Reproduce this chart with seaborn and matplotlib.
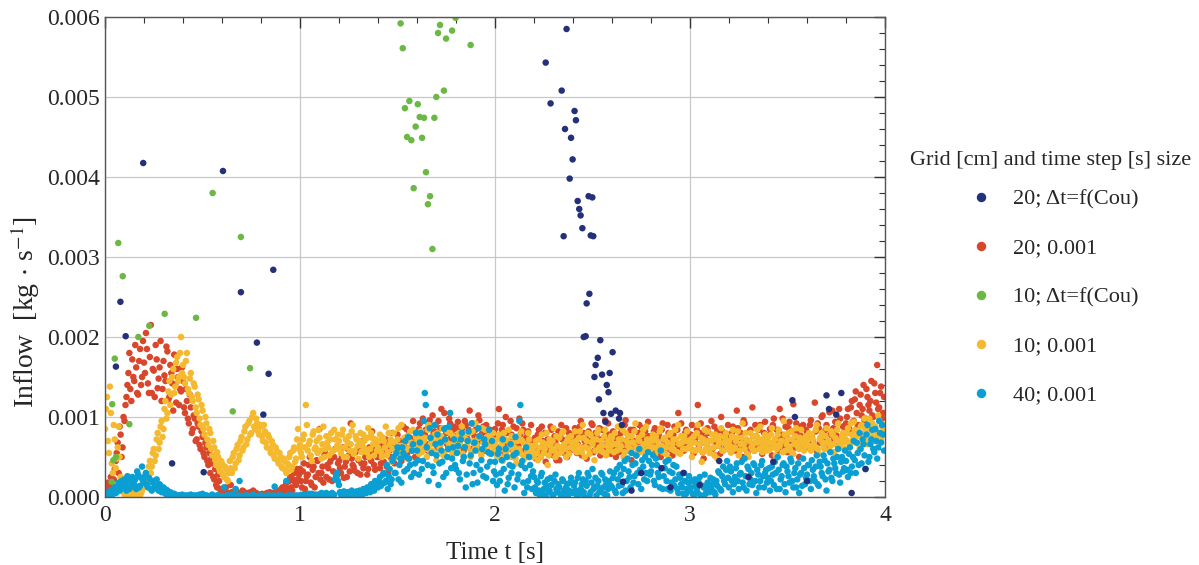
import numpy as np
import pandas as pd
import matplotlib
matplotlib.use("Agg")
import matplotlib.pyplot as plt
from matplotlib.ticker import MultipleLocator, FormatStrFormatter
import seaborn as sns

# ---------------- data (inflow in 1e-3 kg/s) ----------------
# dense series read every 0.01 s from t = 0.00 (list A) and from t = 0.005 (list B)
dense_dt = 0.01

red_20_001_a = [
    0.05, 0.12, 0.02, 0.25, 0.08, 0.35, 0.55, 0.30, 0.78, 0.62, 0.95, 1.25, 1.55, 1.35, 1.72, 1.45, 1.62, 1.28, 1.85, 1.50,
    1.68, 2.05, 1.42, 1.75, 1.30, 1.58, 1.90, 1.36, 1.62, 1.20, 1.70, 1.45, 1.82, 1.25, 1.55, 1.08, 1.40, 1.60, 1.15, 1.32,
    1.45, 1.05, 1.20, 0.92, 1.12, 0.85, 0.98, 0.72, 0.88, 0.60, 0.75, 0.50, 0.62, 0.40, 0.30, 0.42, 0.22, 0.15, 0.28, 0.10,
    0.08, 0.03, 0.12, 0.05, 0.00, 0.06, 0.02, 0.09, 0.01, 0.04, 0.00, 0.07, 0.02, 0.05, 0.01, 0.03, 0.08, 0.00, 0.04, 0.02,
    0.01, 0.03, 0.00, 0.05, 0.02, 0.04, 0.01, 0.06, 0.03, 0.08, 0.05, 0.12, 0.04, 0.18, 0.10, 0.25, 0.08, 0.30, 0.15, 0.22,
    0.35, 0.12, 0.42, 0.20, 0.28, 0.50, 0.15, 0.38, 0.25, 0.45, 0.85, 0.30, 0.18, 0.55, 0.40, 0.22, 0.48, 0.32, 0.60, 0.27,
    0.45, 0.30, 0.62, 0.38, 0.25, 0.52, 0.92, 0.40, 0.33, 0.58, 0.46, 0.28, 0.70, 0.42, 0.55, 0.35, 0.48, 0.82, 0.40, 0.60,
    0.50, 0.36, 0.65, 0.44, 0.72, 0.30, 0.58, 0.48, 0.66, 0.52, 0.78, 0.60, 0.45, 0.88, 0.70, 0.55, 0.82, 0.62, 0.95, 0.50,
    0.72, 0.85, 0.60, 0.98, 0.78, 0.66, 0.90, 0.74, 1.02, 0.82, 0.68, 0.95, 0.86, 0.75, 1.05, 0.80, 0.62, 0.92, 0.70, 0.88,
    0.76, 0.94, 0.65, 0.85, 0.58, 0.90, 0.72, 1.08, 0.80, 0.68, 0.84, 0.60, 0.96, 0.74, 0.88, 0.66, 0.82, 0.55, 0.78, 0.70,
    0.85, 0.62, 1.10, 0.75, 0.90, 0.55, 0.80, 0.68, 0.95, 0.72, 0.50, 0.86, 0.64, 0.78, 0.92, 0.58, 0.74, 0.82, 0.60, 0.70,
    0.66, 0.48, 0.78, 0.56, 0.88, 0.62, 0.44, 0.72, 0.58, 0.84, 0.52, 0.68, 0.75, 0.46, 0.90, 0.60, 0.70, 0.50, 0.80, 0.64,
    0.72, 0.86, 0.55, 0.78, 0.95, 0.62, 0.70, 0.48, 0.82, 0.66, 0.90, 0.58, 0.76, 0.68, 0.52, 0.84, 0.74, 0.60, 0.92, 0.70,
    0.64, 0.80, 0.50, 0.74, 0.88, 0.58, 0.70, 0.96, 0.62, 0.78, 0.46, 0.84, 0.68, 0.55, 0.90, 0.72, 0.60, 0.82, 0.66, 0.76,
    0.70, 0.56, 0.86, 0.64, 0.78, 0.50, 0.92, 0.68, 0.60, 0.80, 0.74, 0.52, 0.88, 0.66, 1.05, 0.62, 0.76, 0.58, 0.84, 0.70,
    0.62, 0.90, 0.55, 0.74, 1.15, 0.66, 0.80, 0.48, 0.72, 0.86, 0.60, 0.95, 0.70, 0.52, 0.82, 0.64, 1.00, 0.58, 0.76, 0.68,
    0.74, 0.56, 0.88, 0.66, 1.08, 0.60, 0.80, 0.50, 0.92, 0.70, 0.62, 0.84, 1.12, 0.58, 0.76, 0.68, 0.90, 0.54, 0.80, 0.72,
    0.66, 0.85, 0.52, 0.98, 0.72, 0.60, 1.10, 0.78, 0.64, 0.88, 0.56, 0.94, 0.70, 1.16, 0.62, 0.82, 0.50, 0.76, 0.90, 0.68,
    0.80, 0.62, 0.96, 0.70, 1.18, 0.58, 0.86, 0.74, 1.02, 0.66, 0.90, 0.60, 0.78, 1.08, 0.72, 0.84, 0.64, 0.98, 0.76, 0.88,
    0.92, 1.10, 0.80, 1.20, 0.95, 1.32, 0.88, 1.15, 1.02, 1.40, 0.98, 1.25, 1.08, 1.45, 1.00, 1.30, 1.65, 1.12, 1.38, 1.05,
]
red_20_001_b = [
    0.00, 0.18, 0.06, 0.15, 0.22, 0.45, 0.68, 0.88, 0.50, 1.00, 1.15, 1.40, 1.80, 1.20, 1.50, 1.90, 1.30, 1.70, 1.40, 1.95,
    1.55, 1.85, 1.30, 2.15, 1.60, 1.25, 1.72, 1.48, 1.95, 1.35, 1.52, 1.88, 1.22, 1.65, 1.42, 1.78, 1.18, 1.50, 1.35, 1.62,
    1.12, 1.35, 0.98, 1.28, 0.80, 1.02, 0.70, 0.92, 0.65, 0.82, 0.55, 0.68, 0.45, 0.55, 0.48, 0.25, 0.35, 0.12, 0.20, 0.06,
    0.02, 0.10, 0.00, 0.04, 0.15, 0.01, 0.07, 0.00, 0.05, 0.02, 0.08, 0.00, 0.03, 0.00, 0.06, 0.02, 0.00, 0.05, 0.01, 0.03,
    0.04, 0.00, 0.02, 0.01, 0.06, 0.00, 0.03, 0.02, 0.07, 0.04, 0.10, 0.06, 0.14, 0.08, 0.20, 0.12, 0.22, 0.18, 0.35, 0.28,
    0.20, 0.32, 0.10, 0.26, 0.40, 0.18, 0.34, 0.12, 0.46, 0.30, 0.22, 0.38, 0.52, 0.25, 0.36, 0.44, 0.20, 0.50, 0.30, 0.42,
    0.36, 0.50, 0.24, 0.44, 0.60, 0.32, 0.48, 0.38, 0.56, 0.30, 0.64, 0.42, 0.36, 0.50, 0.28, 0.62, 0.45, 0.55, 0.34, 0.50,
    0.58, 0.42, 0.74, 0.55, 0.38, 0.66, 0.50, 0.80, 0.42, 0.60, 0.56, 0.70, 0.52, 0.64, 0.85, 0.48, 0.74, 0.58, 0.68, 0.80,
    0.64, 0.92, 0.78, 0.70, 0.84, 0.58, 0.96, 0.68, 0.80, 0.90, 0.62, 0.76, 1.10, 0.70, 0.86, 0.66, 0.98, 0.74, 0.84, 0.60,
    0.86, 0.68, 0.78, 0.62, 0.95, 0.74, 0.84, 0.60, 0.92, 0.76, 0.64, 1.02, 0.70, 0.80, 0.58, 0.90, 0.72, 0.84, 0.66, 0.80,
    0.76, 0.92, 0.58, 0.84, 0.66, 1.00, 0.70, 0.60, 0.78, 0.88, 0.64, 0.74, 0.98, 0.56, 0.84, 0.68, 0.80, 0.52, 0.90, 0.66,
    0.74, 0.58, 0.84, 0.50, 0.70, 0.80, 0.62, 0.54, 0.88, 0.66, 0.76, 0.46, 0.82, 0.60, 0.72, 0.55, 0.86, 0.64, 0.58, 0.78,
    0.60, 0.76, 0.66, 0.88, 0.52, 0.80, 0.74, 0.62, 0.70, 0.92, 0.56, 0.80, 0.64, 0.86, 0.72, 0.58, 0.96, 0.66, 0.78, 0.54,
    0.82, 0.60, 0.72, 0.56, 0.80, 0.66, 0.90, 0.58, 0.74, 0.84, 0.62, 0.70, 0.52, 0.80, 0.66, 0.86, 0.74, 0.56, 0.94, 0.64,
    0.66, 0.82, 0.60, 0.74, 0.56, 0.84, 0.70, 0.62, 0.90, 0.66, 0.58, 0.78, 0.70, 0.84, 0.60, 0.92, 0.68, 0.80, 0.64, 0.74,
    0.78, 0.58, 0.70, 0.84, 0.62, 0.92, 0.56, 0.74, 0.66, 0.80, 0.70, 0.60, 0.88, 0.64, 0.76, 0.54, 0.82, 0.70, 0.62, 0.90,
    0.60, 0.80, 0.68, 0.58, 0.86, 0.74, 0.64, 0.96, 0.70, 0.56, 0.82, 0.66, 0.76, 0.90, 0.62, 0.84, 0.70, 0.60, 0.94, 0.66,
    0.78, 0.62, 0.90, 0.70, 0.84, 0.58, 0.76, 0.98, 0.66, 0.74, 0.86, 0.60, 0.82, 0.70, 0.92, 0.64, 0.88, 0.72, 0.60, 0.84,
    0.70, 0.90, 0.76, 0.64, 0.82, 0.92, 0.68, 1.00, 0.74, 0.84, 0.70, 1.06, 0.66, 0.86, 0.94, 0.76, 1.10, 0.70, 0.88, 0.80,
    1.00, 0.86, 1.12, 0.94, 1.22, 1.05, 0.90, 1.28, 1.10, 0.96, 1.35, 1.15, 1.20, 1.02, 1.42, 1.18, 1.10, 1.30, 0.98, 1.25,
]

yellow_10_001_a = [
    0.85, 1.25, 0.55, 1.05, 0.30, 0.72, 0.48, 0.88, 0.25, 0.10, 0.04, 0.02, 0.06, 0.01, 0.03, 0.05, 0.00, 0.04, 0.02, 0.08,
    0.15, 0.30, 0.22, 0.45, 0.38, 0.60, 0.52, 0.80, 0.68, 0.95, 0.85, 1.20, 1.05, 1.45, 1.28, 1.60, 1.38, 1.75, 1.50, 2.00,
    1.65, 1.42, 1.80, 1.30, 1.55, 1.20, 1.38, 1.05, 1.22, 0.90, 1.08, 0.78, 0.92, 0.65, 0.80, 0.52, 0.62, 0.40, 0.50, 0.32,
    0.42, 0.25, 0.35, 0.20, 0.45, 0.30, 0.55, 0.42, 0.65, 0.52, 0.75, 0.62, 0.88, 0.72, 0.95, 0.80, 1.05, 0.85, 0.92, 0.78,
    0.88, 0.70, 0.82, 0.62, 0.75, 0.55, 0.66, 0.48, 0.58, 0.42, 0.50, 0.36, 0.45, 0.30, 0.40, 0.55, 0.38, 0.62, 0.48, 0.85,
    0.65, 0.50, 0.78, 1.15, 0.58, 0.70, 0.45, 0.82, 0.62, 0.55, 0.74, 0.48, 0.88, 0.60, 0.68, 0.52, 0.80, 0.58, 0.72, 0.64,
    0.70, 0.55, 0.84, 0.62, 0.50, 0.76, 0.66, 0.90, 0.58, 0.72, 0.48, 0.80, 0.64, 0.70, 0.56, 0.86, 0.60, 0.74, 0.52, 0.68,
    0.62, 0.78, 0.50, 0.70, 0.88, 0.56, 0.66, 0.44, 0.80, 0.60, 0.72, 0.52, 0.90, 0.64, 0.58, 0.76, 0.48, 0.68, 0.84, 0.60,
    0.70, 0.54, 0.82, 0.62, 0.74, 0.50, 0.90, 0.66, 0.58, 0.78, 0.46, 0.72, 0.64, 0.86, 0.56, 0.70, 0.60, 0.80, 0.52, 0.68,
    0.74, 0.58, 0.66, 0.88, 0.50, 0.72, 0.62, 0.80, 0.56, 0.70, 0.92, 0.60, 0.76, 0.52, 0.68, 0.84, 0.58, 0.74, 0.64, 0.80,
    0.66, 0.52, 0.78, 0.60, 0.45, 0.72, 0.58, 0.84, 0.50, 0.68, 0.62, 0.42, 0.76, 0.55, 0.70, 0.48, 0.64, 0.80, 0.56, 0.60,
    0.52, 0.70, 0.46, 0.62, 0.78, 0.55, 0.66, 0.40, 0.72, 0.58, 0.86, 0.50, 0.64, 0.74, 0.56, 0.82, 0.60, 0.70, 0.54, 0.76,
    0.68, 0.82, 0.56, 0.74, 0.62, 0.90, 0.50, 0.70, 0.60, 0.78, 0.66, 0.46, 0.72, 0.84, 0.58, 0.64, 0.76, 0.52, 0.70, 0.62,
    0.74, 0.56, 0.66, 0.88, 0.60, 0.72, 0.50, 0.80, 0.64, 0.58, 0.76, 0.68, 0.92, 0.54, 0.70, 0.62, 0.84, 0.58, 0.72, 0.66,
    0.60, 0.78, 0.52, 0.70, 0.64, 0.86, 0.56, 0.74, 0.62, 0.48, 0.80, 0.66, 0.58, 0.72, 0.90, 0.54, 0.68, 0.76, 0.60, 0.70,
    0.64, 0.50, 0.76, 0.58, 0.90, 0.66, 0.44, 0.72, 0.60, 0.82, 0.55, 0.70, 0.62, 0.78, 0.48, 0.68, 0.86, 0.58, 0.74, 0.64,
    0.70, 0.56, 0.84, 0.62, 0.74, 0.52, 0.66, 0.92, 0.60, 0.72, 0.50, 0.80, 0.64, 0.58, 0.76, 0.68, 0.88, 0.56, 0.70, 0.62,
    0.74, 0.60, 0.86, 0.66, 0.52, 0.78, 0.64, 0.70, 0.95, 0.58, 0.72, 0.62, 0.82, 0.54, 0.76, 0.68, 0.60, 0.84, 0.70, 0.64,
    0.66, 0.80, 0.58, 0.72, 0.62, 0.90, 0.54, 0.74, 0.68, 0.60, 0.86, 0.70, 0.64, 0.78, 0.56, 0.72, 0.92, 0.62, 0.76, 0.68,
    0.72, 0.86, 0.64, 0.78, 0.94, 0.68, 0.82, 0.60, 0.90, 0.74, 0.84, 0.66, 0.98, 0.76, 0.70, 0.88, 0.80, 0.96, 0.72, 0.90,
]
yellow_10_001_b = [
    1.10, 0.70, 1.38, 0.42, 0.90, 0.36, 0.62, 0.50, 0.15, 0.06, 0.02, 0.05, 0.00, 0.04, 0.02, 0.07, 0.03, 0.01, 0.05, 0.12,
    0.25, 0.18, 0.38, 0.30, 0.55, 0.45, 0.72, 0.60, 0.88, 0.75, 1.10, 0.98, 1.32, 1.15, 1.50, 1.30, 1.68, 1.45, 1.80, 1.55,
    1.50, 1.70, 1.35, 1.48, 1.25, 1.42, 1.12, 1.28, 0.98, 1.15, 0.85, 1.00, 0.72, 0.85, 0.60, 0.70, 0.46, 0.56, 0.36, 0.45,
    0.28, 0.38, 0.22, 0.30, 0.36, 0.50, 0.36, 0.60, 0.46, 0.70, 0.58, 0.82, 0.66, 0.92, 0.78, 1.00, 0.88, 0.98, 0.82, 0.90,
    0.76, 0.90, 0.68, 0.78, 0.60, 0.70, 0.52, 0.62, 0.46, 0.55, 0.38, 0.48, 0.34, 0.42, 0.50, 0.34, 0.58, 0.44, 0.72, 0.60,
    0.55, 0.72, 0.62, 0.90, 0.66, 0.52, 0.78, 0.60, 0.70, 0.84, 0.58, 0.66, 0.50, 0.76, 0.62, 0.72, 0.56, 0.84, 0.60, 0.78,
    0.62, 0.78, 0.50, 0.72, 0.68, 0.58, 0.82, 0.54, 0.76, 0.64, 0.70, 0.56, 0.78, 0.60, 0.74, 0.50, 0.80, 0.66, 0.72, 0.58,
    0.70, 0.56, 0.74, 0.62, 0.52, 0.80, 0.72, 0.60, 0.68, 0.50, 0.86, 0.64, 0.56, 0.74, 0.70, 0.60, 0.82, 0.58, 0.66, 0.76,
    0.62, 0.76, 0.56, 0.70, 0.60, 0.84, 0.58, 0.74, 0.68, 0.54, 0.80, 0.62, 0.76, 0.52, 0.72, 0.82, 0.66, 0.58, 0.76, 0.64,
    0.60, 0.80, 0.72, 0.54, 0.78, 0.64, 0.70, 0.50, 0.82, 0.60, 0.66, 0.74, 0.56, 0.86, 0.62, 0.70, 0.76, 0.54, 0.72, 0.60,
    0.58, 0.72, 0.50, 0.66, 0.80, 0.54, 0.70, 0.62, 0.76, 0.56, 0.48, 0.70, 0.60, 0.82, 0.52, 0.66, 0.58, 0.72, 0.64, 0.50,
    0.64, 0.56, 0.72, 0.50, 0.68, 0.60, 0.80, 0.52, 0.64, 0.70, 0.58, 0.76, 0.54, 0.62, 0.80, 0.66, 0.50, 0.74, 0.62, 0.68,
    0.60, 0.70, 0.64, 0.82, 0.56, 0.74, 0.62, 0.80, 0.54, 0.68, 0.72, 0.58, 0.80, 0.62, 0.70, 0.56, 0.84, 0.64, 0.58, 0.76,
    0.66, 0.80, 0.58, 0.72, 0.64, 0.84, 0.56, 0.70, 0.76, 0.60, 0.68, 0.82, 0.62, 0.74, 0.56, 0.78, 0.66, 0.88, 0.60, 0.72,
    0.70, 0.62, 0.76, 0.58, 0.82, 0.64, 0.72, 0.54, 0.68, 0.78, 0.60, 0.72, 0.84, 0.56, 0.66, 0.76, 0.60, 0.70, 0.82, 0.62,
    0.72, 0.58, 0.68, 0.80, 0.60, 0.74, 0.56, 0.84, 0.66, 0.70, 0.60, 0.78, 0.52, 0.72, 0.64, 0.76, 0.58, 0.68, 0.80, 0.60,
    0.64, 0.76, 0.60, 0.70, 0.82, 0.58, 0.74, 0.66, 0.80, 0.54, 0.70, 0.62, 0.76, 0.68, 0.84, 0.60, 0.72, 0.64, 0.78, 0.58,
    0.68, 0.78, 0.62, 0.72, 0.60, 0.84, 0.70, 0.56, 0.78, 0.66, 0.80, 0.58, 0.72, 0.66, 0.86, 0.62, 0.74, 0.68, 0.58, 0.76,
    0.72, 0.62, 0.78, 0.66, 0.84, 0.60, 0.72, 0.80, 0.62, 0.76, 0.68, 0.58, 0.82, 0.66, 0.74, 0.84, 0.64, 0.70, 0.80, 0.60,
    0.80, 0.68, 0.92, 0.72, 0.84, 0.76, 0.66, 0.88, 0.78, 0.98, 0.70, 0.86, 0.80, 0.92, 0.74, 0.82, 1.02, 0.76, 0.88, 0.84,
]

cyan_40_001_a = [
    0.02, 0.05, 0.00, 0.08, 0.04, 0.12, 0.06, 0.18, 0.10, 0.15, 0.22, 0.08, 0.20, 0.12, 0.25, 0.16, 0.10, 0.28, 0.14, 0.38,
    0.18, 0.30, 0.12, 0.22, 0.08, 0.20, 0.14, 0.10, 0.16, 0.06, 0.12, 0.04, 0.08, 0.02, 0.05, 0.01, 0.03, 0.00, 0.02, 0.01,
    0.00, 0.02, 0.01, 0.00, 0.03, 0.01, 0.00, 0.02, 0.00, 0.01, 0.04, 0.00, 0.02, 0.01, 0.00, 0.03, 0.01, 0.00, 0.02, 0.01,
    0.00, 0.12, 0.01, 0.00, 0.02, 0.00, 0.01, 0.10, 0.00, 0.20, 0.01, 0.00, 0.02, 0.00, 0.01, 0.00, 0.03, 0.00, 0.01, 0.00,
    0.02, 0.00, 0.01, 0.00, 0.02, 0.00, 0.01, 0.13, 0.00, 0.02, 0.00, 0.01, 0.00, 0.20, 0.02, 0.00, 0.01, 0.00, 0.02, 0.01,
    0.00, 0.02, 0.01, 0.03, 0.00, 0.02, 0.04, 0.01, 0.03, 0.00, 0.02, 0.05, 0.01, 0.03, 0.02, 0.00, 0.04, 0.02, 0.22, 0.30,
    0.15, 0.03, 0.05, 0.02, 0.04, 0.06, 0.03, 0.05, 0.02, 0.07, 0.04, 0.06, 0.03, 0.08, 0.05, 0.10, 0.06, 0.14, 0.08, 0.18,
    0.12, 0.25, 0.16, 0.30, 0.20, 0.10, 0.35, 0.22, 0.50, 0.30, 0.62, 0.40, 0.18, 0.55, 0.70, 0.35, 0.48, 0.25, 0.66, 0.42,
    0.58, 0.28, 0.80, 0.45, 1.30, 0.62, 0.20, 0.74, 0.38, 0.90, 0.52, 0.15, 0.68, 0.44, 0.85, 0.30, 0.60, 1.05, 0.48, 0.72,
    0.35, 0.64, 0.22, 0.80, 0.50, 0.12, 0.70, 0.42, 0.92, 0.30, 0.58, 0.18, 0.76, 0.46, 0.26, 0.66, 0.38, 0.84, 0.54, 0.20,
    0.44, 0.15, 0.60, 0.30, 0.72, 0.08, 0.50, 0.24, 0.66, 0.38, 0.12, 0.55, 0.28, 1.15, 0.45, 0.05, 0.62, 0.20, 0.40, 0.10,
    0.25, 0.05, 0.18, 0.02, 0.30, 0.10, 0.00, 0.22, 0.08, 0.15, 0.03, 0.28, 0.06, 0.12, 0.00, 0.20, 0.04, 0.16, 0.08, 0.24,
    0.05, 0.18, 0.02, 0.30, 0.10, 0.22, 0.00, 0.14, 0.26, 0.06, 0.35, 0.12, 0.02, 0.20, 0.08, 0.28, 0.04, 0.16, 0.10, 0.32,
    0.12, 0.30, 0.05, 0.22, 0.40, 0.15, 0.35, 0.08, 0.48, 0.25, 0.55, 0.18, 0.42, 0.30, 0.60, 0.10, 0.38, 0.50, 0.20, 0.45,
    0.32, 0.52, 0.15, 0.40, 0.25, 0.58, 0.10, 0.36, 0.20, 0.46, 0.08, 0.30, 0.14, 0.38, 0.05, 0.24, 0.12, 0.30, 0.04, 0.18,
    0.08, 0.20, 0.02, 0.15, 0.05, 0.25, 0.00, 0.12, 0.04, 0.18, 0.06, 0.10, 0.22, 0.03, 0.14, 0.30, 0.08, 0.38, 0.16, 0.45,
    0.12, 0.32, 0.06, 0.25, 0.42, 0.10, 0.30, 0.18, 0.48, 0.08, 0.35, 0.22, 0.15, 0.40, 0.05, 0.28, 0.20, 0.45, 0.12, 0.34,
    0.24, 0.08, 0.38, 0.15, 0.30, 0.50, 0.10, 0.26, 0.42, 0.06, 0.32, 0.18, 0.44, 0.12, 0.36, 0.22, 0.05, 0.30, 0.48, 0.16,
    0.28, 0.40, 0.10, 0.34, 0.20, 0.52, 0.14, 0.38, 0.26, 0.46, 0.08, 0.32, 0.56, 0.20, 0.42, 0.30, 0.60, 0.18, 0.50, 0.36,
    0.45, 0.25, 0.62, 0.38, 0.70, 0.30, 0.55, 0.80, 0.42, 0.66, 0.35, 0.90, 0.50, 0.72, 0.60, 0.85, 0.48, 0.95, 0.68, 0.78,
]
cyan_40_001_b = [
    0.00, 0.03, 0.06, 0.02, 0.10, 0.05, 0.14, 0.08, 0.20, 0.12, 0.16, 0.26, 0.10, 0.18, 0.14, 0.22, 0.32, 0.12, 0.24, 0.20,
    0.26, 0.15, 0.24, 0.10, 0.18, 0.12, 0.22, 0.08, 0.14, 0.10, 0.06, 0.09, 0.03, 0.06, 0.02, 0.04, 0.01, 0.02, 0.00, 0.03,
    0.01, 0.00, 0.02, 0.01, 0.00, 0.02, 0.01, 0.00, 0.03, 0.00, 0.01, 0.02, 0.00, 0.01, 0.02, 0.00, 0.01, 0.02, 0.00, 0.01,
    0.01, 0.00, 0.02, 0.01, 0.00, 0.03, 0.00, 0.01, 0.02, 0.00, 0.01, 0.00, 0.02, 0.01, 0.00, 0.02, 0.00, 0.01, 0.00, 0.02,
    0.00, 0.01, 0.00, 0.02, 0.00, 0.01, 0.02, 0.00, 0.01, 0.00, 0.02, 0.00, 0.01, 0.00, 0.01, 0.02, 0.00, 0.01, 0.00, 0.02,
    0.01, 0.03, 0.00, 0.02, 0.04, 0.01, 0.03, 0.02, 0.00, 0.03, 0.01, 0.04, 0.02, 0.05, 0.03, 0.01, 0.05, 0.03, 0.26, 0.20,
    0.06, 0.04, 0.07, 0.03, 0.06, 0.04, 0.08, 0.05, 0.03, 0.06, 0.08, 0.05, 0.10, 0.06, 0.12, 0.08, 0.16, 0.10, 0.20, 0.14,
    0.20, 0.14, 0.28, 0.18, 0.40, 0.26, 0.16, 0.45, 0.30, 0.55, 0.22, 0.48, 0.62, 0.32, 0.50, 0.75, 0.40, 0.58, 0.30, 0.80,
    0.46, 0.68, 0.35, 0.95, 1.15, 0.40, 0.86, 0.55, 0.30, 0.66, 0.78, 0.42, 0.58, 0.25, 0.72, 0.50, 0.88, 0.36, 0.62, 0.40,
    0.55, 0.30, 0.72, 0.45, 0.62, 0.28, 0.82, 0.52, 0.16, 0.68, 0.40, 0.86, 0.34, 0.60, 0.72, 0.24, 0.56, 0.44, 0.70, 0.32,
    0.28, 0.54, 0.20, 0.46, 0.35, 0.60, 0.16, 0.40, 0.30, 0.52, 0.75, 0.22, 0.95, 0.40, 0.18, 0.36, 0.12, 0.50, 0.26, 0.32,
    0.12, 0.20, 0.08, 0.26, 0.04, 0.18, 0.14, 0.06, 0.24, 0.02, 0.20, 0.10, 0.16, 0.04, 0.22, 0.08, 0.12, 0.02, 0.18, 0.06,
    0.14, 0.08, 0.24, 0.04, 0.16, 0.06, 0.20, 0.30, 0.02, 0.18, 0.10, 0.24, 0.14, 0.06, 0.30, 0.12, 0.22, 0.02, 0.20, 0.14,
    0.24, 0.08, 0.35, 0.14, 0.28, 0.05, 0.45, 0.20, 0.32, 0.12, 0.40, 0.26, 0.52, 0.16, 0.34, 0.46, 0.22, 0.30, 0.56, 0.28,
    0.40, 0.20, 0.48, 0.30, 0.12, 0.36, 0.26, 0.44, 0.10, 0.32, 0.18, 0.40, 0.22, 0.10, 0.28, 0.16, 0.04, 0.20, 0.10, 0.26,
    0.12, 0.04, 0.22, 0.10, 0.18, 0.02, 0.14, 0.28, 0.08, 0.12, 0.24, 0.16, 0.06, 0.20, 0.32, 0.10, 0.26, 0.20, 0.34, 0.24,
    0.38, 0.20, 0.16, 0.36, 0.20, 0.28, 0.44, 0.12, 0.26, 0.38, 0.16, 0.30, 0.42, 0.20, 0.34, 0.12, 0.40, 0.26, 0.30, 0.18,
    0.36, 0.20, 0.28, 0.44, 0.10, 0.34, 0.22, 0.40, 0.16, 0.38, 0.26, 0.48, 0.20, 0.30, 0.12, 0.42, 0.28, 0.14, 0.36, 0.24,
    0.40, 0.20, 0.46, 0.26, 0.38, 0.16, 0.44, 0.30, 0.52, 0.22, 0.42, 0.34, 0.24, 0.48, 0.36, 0.50, 0.28, 0.44, 0.32, 0.58,
    0.34, 0.54, 0.30, 0.50, 0.46, 0.68, 0.40, 0.60, 0.72, 0.52, 0.78, 0.44, 0.66, 0.84, 0.56, 0.70, 0.62, 0.80, 0.90, 0.58,
]

# sparse series: (time, inflow)
navy_t = [0.056, 0.079, 0.106, 0.196, 0.344, 0.506, 0.605, 0.697, 0.779, 0.812, 0.839, 0.863,
          2.260, 2.285, 2.342, 2.352, 2.359, 2.367, 2.383, 2.390, 2.398, 2.408, 2.415, 2.424,
          2.432, 2.439, 2.448, 2.455, 2.465, 2.470, 2.480, 2.484, 2.491, 2.499, 2.504, 2.510,
          2.516, 2.527, 2.533, 2.540, 2.549, 2.556, 2.566, 2.573, 2.582, 2.588, 2.595, 2.603,
          2.619, 2.636, 2.641, 2.651, 2.657, 2.700, 2.750, 2.854, 2.900, 2.966, 3.050, 3.150,
          3.300, 3.427, 3.525, 3.538, 3.600, 3.700, 3.713, 3.750, 3.776, 3.829, 3.900]
navy_v = [1.63, 2.44, 2.01, 4.175, 0.42, 0.31, 4.075, 2.56, 1.93, 1.03, 1.54, 2.84,
          5.43, 4.92, 5.08, 3.26, 4.60, 5.85, 3.98, 4.49, 4.22, 4.825, 4.71, 3.70,
          3.60, 3.52, 3.36, 2.00, 2.01, 2.42, 3.76, 2.54, 3.27, 3.745, 3.26, 1.50,
          1.65, 1.74, 1.22, 1.96, 1.53, 1.05, 0.94, 1.40, 1.31, 1.55, 1.04, 1.81,
          1.08, 0.98, 1.05, 0.90, 0.19, 0.08, 0.30, 0.36, 0.12, 0.30, 0.15, 0.45,
          0.25, 0.44, 1.21, 1.00, 0.20, 1.27, 1.10, 1.03, 1.30, 0.05, 0.35]

green_t = [0.034, 0.037, 0.043, 0.050, 0.056, 0.068, 0.091, 0.125, 0.171, 0.227, 0.306, 0.467,
           0.552, 0.655, 0.697, 0.744,
           1.516, 1.527, 1.538, 1.549, 1.561, 1.571, 1.583, 1.593, 1.604, 1.614, 1.626, 1.636,
           1.646, 1.656, 1.667, 1.679, 1.689, 1.699, 1.708, 1.718, 1.738, 1.749, 1.780, 1.798, 1.875]
green_v = [0.19, 1.16, 0.46, 1.73, 0.50, 3.175, 2.76, 0.91, 2.00, 2.14, 2.29, 2.24,
           3.80, 1.07, 3.25, 1.61,
           5.92, 5.61, 4.86, 4.50, 4.95, 4.46, 3.86, 4.63, 4.91, 4.75, 4.49, 4.74,
           4.06, 3.66, 3.76, 3.10, 4.74, 5.00, 5.80, 5.90, 5.08, 5.73, 5.83, 5.99, 5.65]

labels = ["20; \u0394t=f(Cou)", "20; 0.001", "10; \u0394t=f(Cou)", "10; 0.001", "40; 0.001"]
colors = ["#24317a", "#d8462b", "#6cb845", "#f4b92f", "#0a9fd2"]
legend_title = "Grid [cm] and time step [s] size"

# ---------------- build table ----------------
def dense_frame(vals_a, vals_b, label):
    ta = np.arange(len(vals_a)) * dense_dt
    tb = np.arange(len(vals_b)) * dense_dt + dense_dt / 2
    t = np.concatenate([ta, tb])
    v = np.concatenate([vals_a, vals_b]) * 1e-3
    order = np.argsort(t, kind="stable")
    return pd.DataFrame({"t": t[order], "inflow": v[order], "series": label})

frames = [
    dense_frame(red_20_001_a, red_20_001_b, labels[1]),
    dense_frame(yellow_10_001_a, yellow_10_001_b, labels[3]),
    dense_frame(cyan_40_001_a, cyan_40_001_b, labels[4]),
    pd.DataFrame({"t": navy_t, "inflow": np.array(navy_v) * 1e-3, "series": labels[0]}),
    pd.DataFrame({"t": green_t, "inflow": np.array(green_v) * 1e-3, "series": labels[2]}),
]
df = pd.concat(frames, ignore_index=True)

# ---------------- style ----------------
sns.set_style("white")
plt.rcParams["font.family"] = ["Liberation Serif", "DejaVu Serif"]
plt.rcParams["mathtext.fontset"] = "stix"

fig = plt.figure(figsize=(11.99, 5.65), dpi=100)
ax = fig.add_axes([105 / 1199, 68 / 565, 780 / 1199, 480 / 565])

sns.scatterplot(data=df, x="t", y="inflow", hue="series", hue_order=labels,
                palette=dict(zip(labels, colors)), s=22, linewidth=0, alpha=1.0,
                ax=ax, legend=True)

ax.set_xlim(0, 4)
ax.set_ylim(0, 0.006)
ax.xaxis.set_major_locator(MultipleLocator(1))
ax.xaxis.set_minor_locator(MultipleLocator(0.2))
ax.yaxis.set_major_locator(MultipleLocator(0.001))
ax.yaxis.set_minor_locator(MultipleLocator(0.0002))
ax.yaxis.set_major_formatter(FormatStrFormatter("%.3f"))
ax.xaxis.set_major_formatter(FormatStrFormatter("%d"))
ax.grid(True, which="major", color="#c8c8c8", linewidth=0.9)
ax.set_axisbelow(True)
ax.tick_params(which="both", direction="in", top=True, right=True, labelsize=17, color="#333333")
ax.tick_params(which="major", length=8, width=1.0)
ax.tick_params(which="minor", length=4, width=0.8)
ax.tick_params(axis="x", pad=6)
for sp in ax.spines.values():
    sp.set_color("#555555")
    sp.set_linewidth(1.0)

ax.set_xlabel("Time t [s]", fontsize=18, labelpad=11)
ax.set_ylabel(r"Inflow  [kg$\,\cdot\,$s$^{-1}$]", fontsize=20)
ax.yaxis.set_label_coords((42 - 105) / 780, (497 - 312) / 480)

leg = ax.legend(loc="center",
                bbox_to_anchor=(1049 / 1199, 1 - 297 / 565), bbox_transform=fig.transFigure,
                frameon=False, fontsize=16, labelspacing=1.28,
                handletextpad=0.45, markerscale=1.45)
fig.text(1051 / 1199, 1 - 160 / 565, legend_title, fontsize=16, ha="center", va="center")

fig.savefig("out.png", dpi=100)
